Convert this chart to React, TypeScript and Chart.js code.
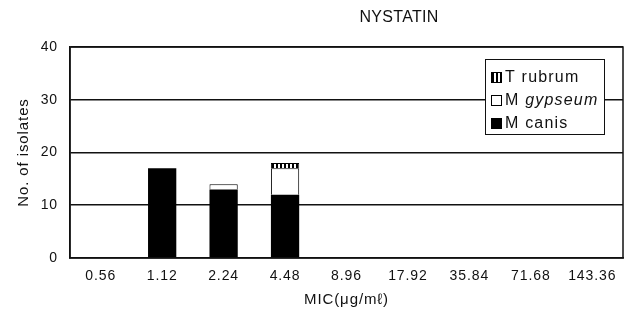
import React, { useEffect, useRef } from "react";
import { Chart, registerables } from "chart.js";

Chart.register(...registerables);

const TITLE = "NYSTATIN";
const categories = ["0.56", "1.12", "2.24", "4.48", "8.96", "17.92", "35.84", "71.68", "143.36"];
const mCanis = [0, 17, 13, 12, 0, 0, 0, 0, 0];
const mGypseum = [0, 0, 1, 5, 0, 0, 0, 0, 0];
const tRubrum = [0, 0, 0, 1, 0, 0, 0, 0, 0];
const yTicks = [0, 10, 20, 30, 40];
const FONT = "'Liberation Sans', Arial, sans-serif";

function makeStripePattern(): CanvasPattern | string {
  const c = document.createElement("canvas");
  c.width = 4;
  c.height = 4;
  const ctx = c.getContext("2d");
  if (!ctx) return "#fff";
  ctx.fillStyle = "#fff";
  ctx.fillRect(0, 0, 4, 4);
  ctx.fillStyle = "#000";
  ctx.fillRect(0, 0, 2, 4);
  const p = ctx.createPattern(c, "repeat");
  return p || "#fff";
}

export default function App() {
  const ref = useRef<HTMLCanvasElement>(null);

  useEffect(() => {
    if (!ref.current) return;
    const stripe = makeStripePattern();

    const spacingPlugin = {
      id: "textSpacing",
      beforeDraw(chart: any) {
        (chart.ctx as any).letterSpacing = "0.9px";
      },
    };

    const titlePlugin = {
      id: "customTitle",
      afterDraw(chart: any) {
        const ctx = chart.ctx;
        ctx.save();
        (ctx as any).letterSpacing = "0.3px";
        ctx.fillStyle = "#111";
        ctx.font = `16px ${FONT}`;
        ctx.textAlign = "center";
        ctx.textBaseline = "middle";
        ctx.fillText(TITLE, chart.chartArea.left + (chart.chartArea.right - chart.chartArea.left) * 0.595, 18);
        ctx.restore();
      },
    };

    const borderPlugin = {
      id: "plotBorder",
      afterDatasetsDraw(chart: any) {
        const { left, right, top, bottom } = chart.chartArea;
        const ctx = chart.ctx;
        ctx.save();
        ctx.strokeStyle = "#111";
        ctx.lineWidth = 1.5;
        ctx.strokeRect(left, top, right - left, bottom - top);
        ctx.restore();
      },
    };

    const legendPlugin = {
      id: "insideLegend",
      afterDraw(chart: any) {
        const { right, top } = chart.chartArea;
        const ctx = chart.ctx;
        const w = 119;
        const h = 75;
        const x = right - w - 19;
        const y = top + 12;
        ctx.save();
        ctx.fillStyle = "#fff";
        ctx.fillRect(x, y, w, h);
        ctx.strokeStyle = "#111";
        ctx.lineWidth = 1;
        ctx.strokeRect(x + 0.5, y + 0.5, w, h);
        const items = [
          { pre: "T ", name: "rubrum", italic: false, fill: stripe },
          { pre: "M ", name: "gypseum", italic: true, fill: "#fff" },
          { pre: "M ", name: "canis", italic: false, fill: "#000" },
        ];
        ctx.textBaseline = "middle";
        (ctx as any).letterSpacing = "1.2px";
        items.forEach((it, i) => {
          const cy = y + 18 + i * 23;
          const bx = x + 6;
          ctx.fillStyle = it.fill as any;
          ctx.fillRect(bx, cy - 5, 11, 11);
          ctx.strokeStyle = "#000";
          ctx.lineWidth = 1;
          ctx.strokeRect(bx + 0.5, cy - 4.5, 10, 10);
          ctx.fillStyle = "#111";
          ctx.font = `16px ${FONT}`;
          ctx.fillText(it.pre, bx + 14, cy + 1);
          const pw = ctx.measureText(it.pre).width;
          ctx.font = `${it.italic ? "italic " : ""}16px ${FONT}`;
          ctx.fillText(it.name, bx + 14 + pw, cy + 1);
        });
        ctx.restore();
      },
    };

    const chart = new Chart(ref.current, {
      type: "bar",
      data: {
        labels: categories,
        datasets: [
          {
            label: "M canis",
            data: mCanis,
            backgroundColor: "#000",
            borderColor: "#000",
            borderWidth: 0,
          },
          {
            label: "M gypseum",
            data: mGypseum,
            backgroundColor: "#fff",
            borderColor: "#000",
            borderWidth: 1,
          },
          {
            label: "T rubrum",
            data: tRubrum,
            backgroundColor: stripe as any,
            borderColor: "#000",
            borderWidth: 1,
          },
        ],
      },
      options: {
        animation: false,
        responsive: false,
        maintainAspectRatio: false,
        layout: { padding: { top: 47, right: 9, left: 0, bottom: 0 } },
        datasets: {
          bar: { barPercentage: 0.5, categoryPercentage: 0.92 },
        },
        plugins: {
          legend: { display: false },
          title: { display: false },
          tooltip: { enabled: false },
        },
        scales: {
          x: {
            stacked: true,
            grid: { display: false, drawTicks: false },
            border: { display: true, color: "#111", width: 1.5 },
            ticks: {
              color: "#111",
              font: { family: FONT, size: 14 },
              padding: 10,
              maxRotation: 0,
            },
            title: {
              display: true,
              text: "MIC(μg/mℓ)",
              color: "#111",
              font: { family: FONT, size: 15 },
              padding: { top: 0, bottom: 13 },
            },
            afterFit(scale: any) {
              scale.height = 64;
            },
          },
          y: {
            stacked: true,
            min: 0,
            max: 40,
            afterBuildTicks(scale: any) {
              scale.ticks = yTicks.map((v) => ({ value: v }));
            },
            grid: {
              color: (c: any) => (c.tick && c.tick.value === 0 ? "rgba(0,0,0,0)" : "#111"),
              lineWidth: 1.6,
              drawTicks: false,
            },
            border: { display: true, color: "#111", width: 1.5 },
            ticks: {
              color: "#111",
              font: { family: FONT, size: 14 },
              padding: 12,
            },
            title: {
              display: true,
              text: "No. of isolates",
              color: "#111",
              font: { family: FONT, size: 15 },
              padding: { top: 15, bottom: 0 },
            },
            afterFit(scale: any) {
              scale.width = 70;
            },
          },
        },
      },
      plugins: [spacingPlugin, borderPlugin, legendPlugin, titlePlugin],
    });
    return () => chart.destroy();
  }, []);

  return (
    <div style={{ position: "fixed", left: 0, top: 0, width: 632, height: 322, background: "#fff" }}>
      <canvas ref={ref} width={632} height={322} style={{ display: "block" }} />
    </div>
  );
}
